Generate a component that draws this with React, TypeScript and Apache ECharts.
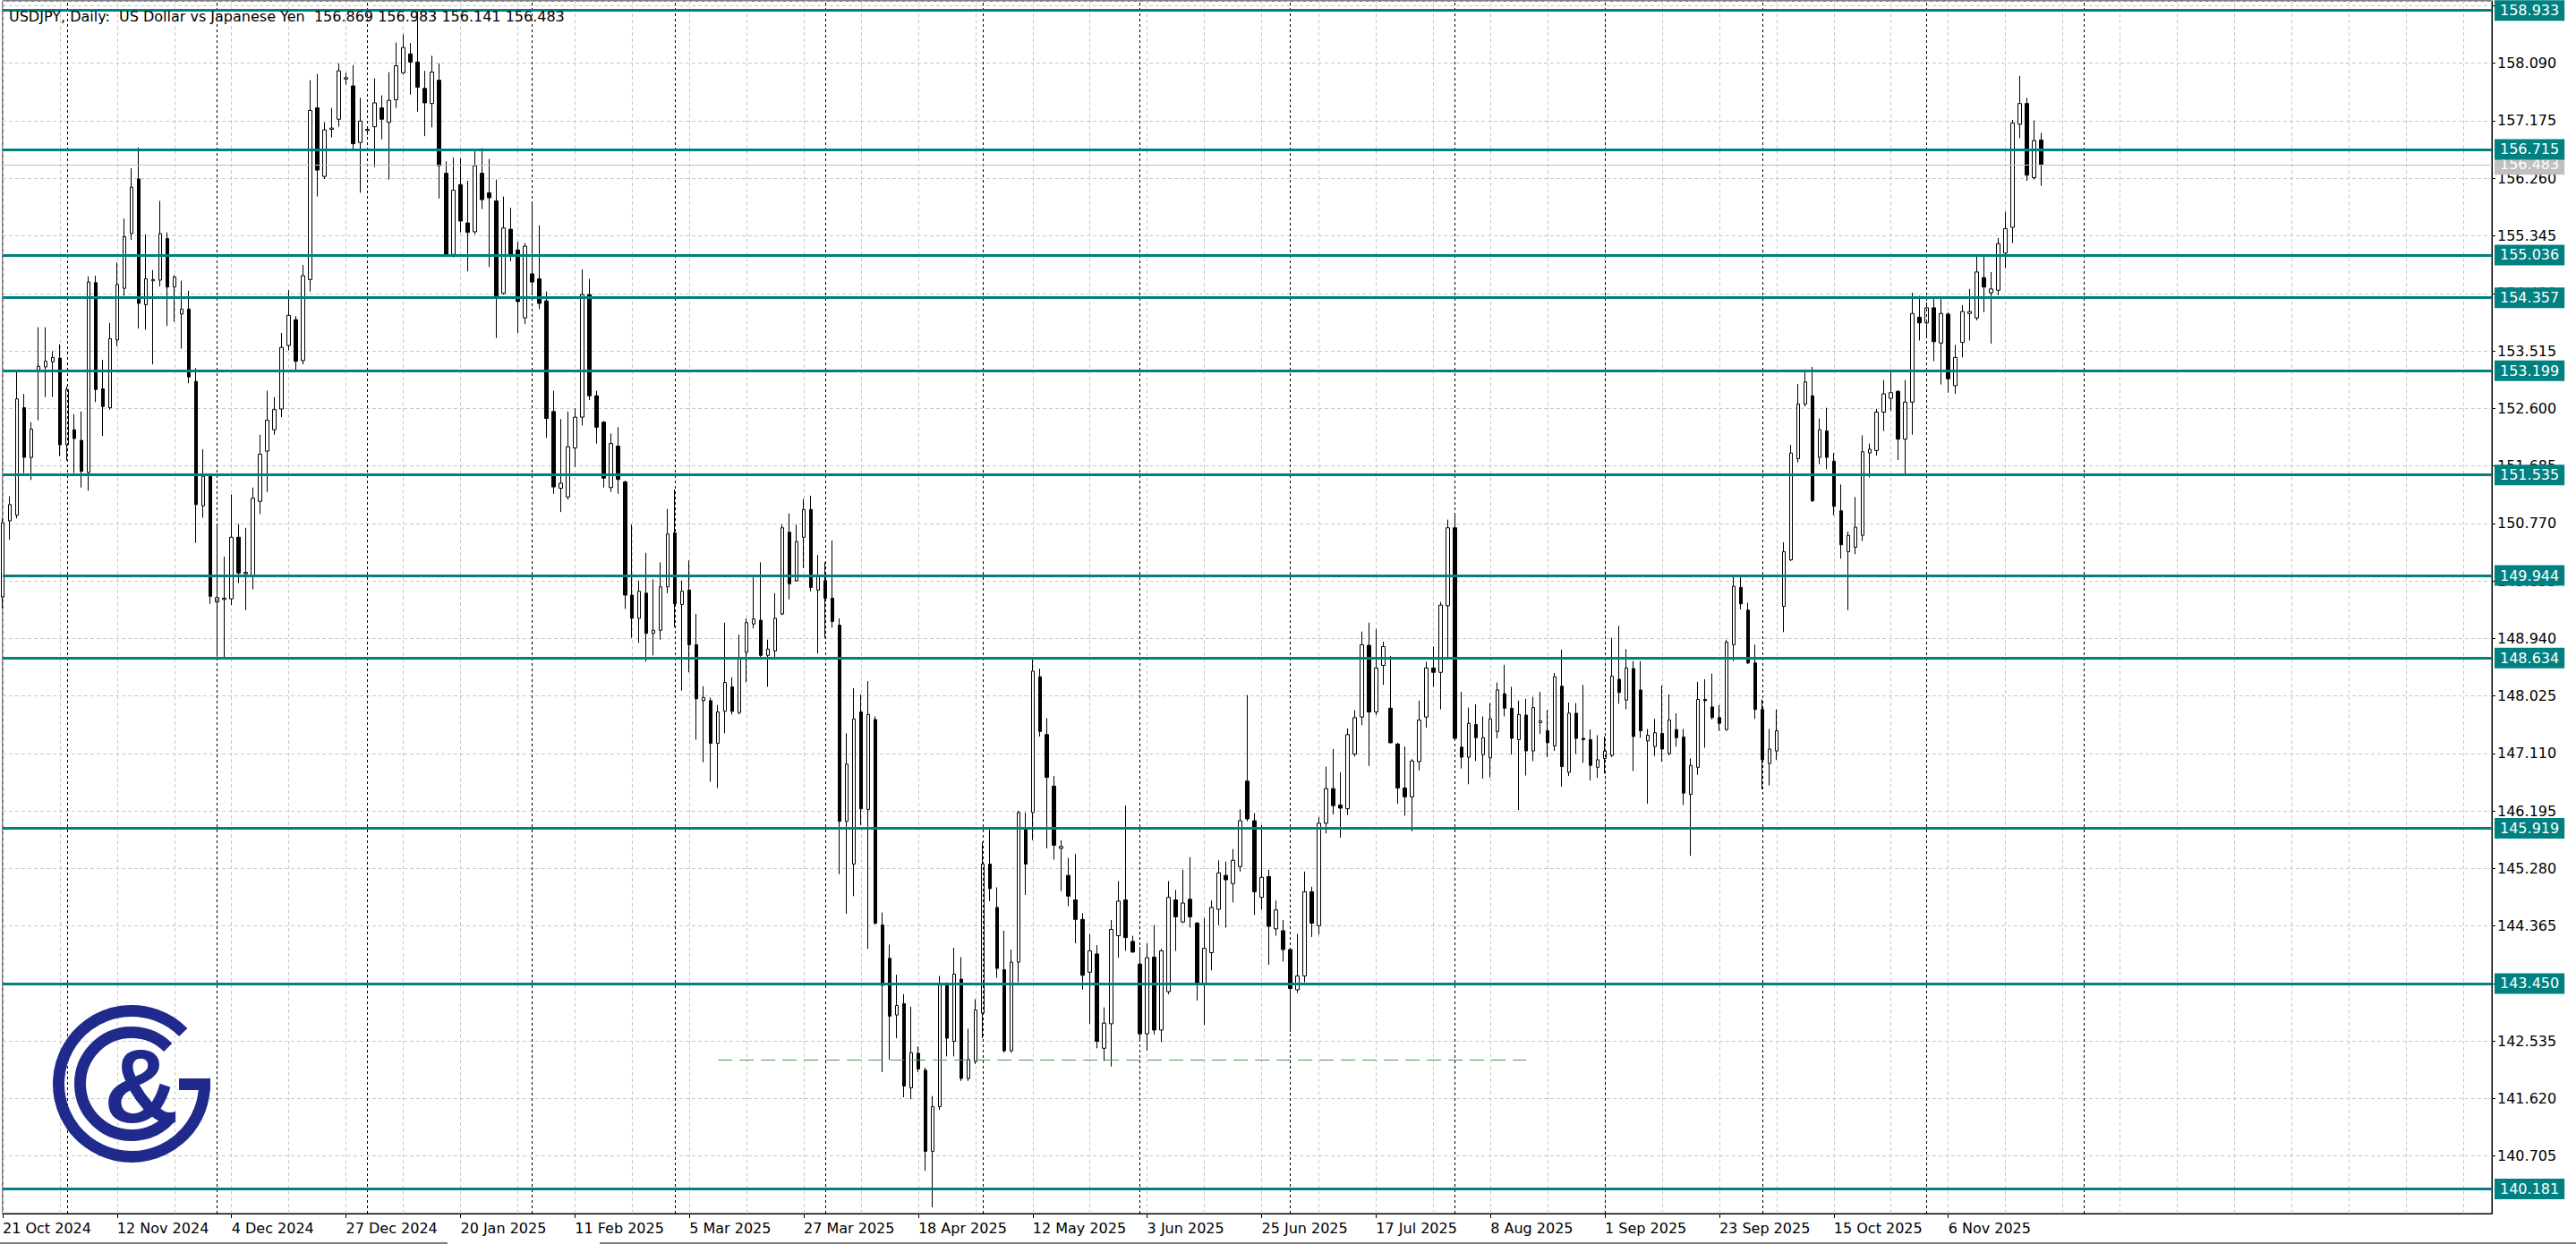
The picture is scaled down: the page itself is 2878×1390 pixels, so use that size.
import React, { useEffect, useRef } from 'react';
import * as echarts from 'echarts';

// ---------- axis / layout constants ----------
const BASE = 139.79; // bottom of price axis (first tick below 140.705)
const Y_MAX = 159.0825;
const TICK_STEP = 0.915;
const startDate = '2024-10-21';
const skippedDates = ['2024-12-25'];
const categoryCount = 349;
const labelEvery = 16;
const gridEvery = 8;

// ---------- OHLC values (USDJPY daily) ----------
const opens = [
  149.60, 150.81, 150.90, 152.61, 151.82, 153.18, 153.26, 153.34, 153.40, 152.02,
  152.26, 152.09, 151.58, 154.60, 152.91, 152.61, 153.69, 154.51, 155.38, 156.25,
  154.25, 154.63, 154.64, 155.30, 154.53, 154.10, 154.18, 153.03, 151.05, 151.52,
  149.52, 149.56, 149.57, 150.55, 149.97, 149.92, 151.12, 151.92, 152.26, 152.59,
  153.60, 154.01, 153.36, 154.65, 157.38, 156.29, 157.04, 157.20, 157.84, 157.73,
  156.83, 157.02, 157.08, 157.38, 157.15, 157.51, 157.94, 158.24, 158.11, 157.69,
  157.45, 157.82, 156.34, 155.05, 156.16, 155.55, 155.41, 156.34, 156.03, 155.90,
  154.43, 155.45, 155.12, 154.04, 154.74, 154.66, 154.31, 152.55, 151.33, 151.19,
  151.97, 152.46, 154.41, 152.80, 152.38, 151.34, 152.00, 151.43, 149.63, 149.26,
  149.66, 149.02, 149.07, 149.76, 150.62, 149.48, 149.71, 148.84, 147.95, 147.95,
  147.27, 147.78, 148.17, 147.76, 148.72, 149.17, 149.23, 148.67, 148.74, 149.33,
  150.63, 149.86, 150.55, 150.99, 149.71, 149.86, 149.58, 149.15, 146.03, 145.35,
  147.77, 146.22, 147.65, 144.38, 143.85, 142.95, 143.13, 141.79, 142.34, 142.07,
  140.78, 141.49, 143.45, 142.53, 143.52, 141.94, 142.21, 142.98, 145.35, 144.66,
  143.67, 142.38, 143.79, 145.92, 146.17, 148.33, 147.41, 146.59, 145.60, 145.17,
  144.78, 144.47, 143.63, 143.92, 142.42, 142.81, 144.21, 144.78, 144.12, 143.76,
  142.65, 143.87, 142.71, 143.32, 144.78, 144.43, 144.79, 144.41, 143.44, 143.94,
  144.63, 145.17, 145.04, 145.31, 146.67, 146.04, 144.82, 145.15, 144.32, 144.29,
  143.99, 143.35, 143.57, 144.91, 144.37, 146.00, 146.55, 146.29, 146.23, 147.10,
  147.69, 148.83, 147.77, 148.51, 147.83, 147.26, 146.56, 146.42, 146.98, 147.69,
  148.47, 148.40, 149.46, 150.70, 147.21, 147.05, 147.57, 147.09, 147.04, 147.46,
  148.06, 147.83, 147.33, 147.72, 147.15, 147.60, 147.47, 147.23, 148.18, 146.81,
  147.75, 147.35, 147.33, 146.89, 147.03, 147.08, 148.29, 147.96, 148.46, 148.12,
  147.31, 147.22, 147.43, 147.11, 147.49, 147.37, 146.46, 146.89, 147.97, 147.85,
  147.68, 147.49, 148.84, 149.75, 149.39, 148.55, 147.81, 146.95, 147.15, 149.45,
  150.19, 151.80, 152.67, 152.80, 151.82, 152.24, 151.76, 150.97, 150.32, 150.39,
  150.58, 151.89, 151.93, 152.54, 152.76, 152.87, 152.11, 152.70, 154.05, 153.96,
  154.20, 153.64, 154.10, 152.96, 153.65, 154.11, 154.04, 154.68, 154.44, 154.48,
  155.07, 155.48, 157.12, 157.45, 156.27, 156.869,
];
const highs = [
  150.85, 151.20, 153.18, 152.83, 152.38, 153.89, 153.89, 153.51, 153.62, 152.95,
  152.51, 152.55, 154.70, 154.71, 153.37, 153.96, 154.92, 155.62, 156.42, 156.75,
  155.37, 154.80, 155.90, 155.40, 154.72, 154.63, 154.47, 153.24, 151.95, 151.55,
  150.75, 150.24, 151.23, 150.76, 150.70, 151.34, 152.18, 152.88, 152.78, 153.80,
  154.48, 154.07, 154.88, 157.82, 157.92, 157.15, 157.38, 158.09, 157.94, 158.06,
  157.54, 157.08, 157.85, 157.58, 157.95, 158.42, 158.55, 158.41, 158.91, 157.97,
  158.21, 158.09, 156.53, 156.59, 156.58, 156.22, 156.69, 156.74, 156.57, 156.24,
  155.97, 155.79, 155.25, 155.23, 155.88, 155.51, 154.46, 152.88, 152.43, 152.55,
  152.60, 154.81, 154.66, 152.88, 152.40, 152.20, 152.30, 151.45, 150.75, 149.86,
  150.30, 149.88, 150.15, 151.00, 151.31, 149.86, 150.18, 149.33, 148.18, 148.00,
  147.88, 149.19, 148.32, 149.00, 149.26, 149.91, 150.15, 148.92, 149.66, 150.75,
  150.93, 150.75, 151.16, 151.21, 150.27, 150.15, 150.50, 149.26, 147.43, 148.15,
  148.05, 148.26, 147.70, 144.58, 144.07, 143.59, 143.28, 143.08, 142.45, 142.11,
  141.66, 143.57, 143.47, 144.02, 143.87, 142.73, 143.20, 145.70, 145.90, 144.98,
  144.29, 143.99, 146.20, 146.17, 148.60, 148.46, 147.67, 146.75, 145.73, 145.45,
  145.51, 144.57, 144.24, 144.06, 143.07, 144.46, 145.08, 146.28, 144.21, 144.03,
  144.09, 144.38, 144.00, 145.08, 144.94, 145.26, 145.46, 144.43, 144.49, 144.77,
  145.41, 145.39, 145.59, 146.22, 148.04, 146.16, 145.97, 145.26, 144.77, 144.46,
  144.00, 144.24, 145.23, 144.99, 146.10, 146.90, 147.18, 146.81, 147.51, 147.80,
  149.05, 149.19, 149.09, 148.89, 148.66, 147.28, 147.22, 147.02, 147.95, 148.57,
  148.81, 149.52, 150.83, 150.93, 148.09, 147.84, 147.89, 147.70, 147.91, 148.24,
  148.52, 148.17, 147.95, 147.98, 148.01, 148.09, 147.80, 148.39, 148.76, 147.92,
  147.91, 148.20, 147.49, 147.40, 147.38, 148.95, 149.14, 148.77, 148.58, 148.58,
  147.50, 147.66, 148.19, 148.05, 147.75, 147.50, 147.03, 148.25, 148.29, 148.38,
  147.88, 148.92, 149.93, 149.93, 149.51, 148.84, 147.97, 147.50, 147.81, 150.47,
  152.02, 152.99, 153.22, 153.26, 152.44, 152.61, 151.89, 151.39, 150.64, 151.19,
  152.17, 152.04, 152.59, 153.05, 153.22, 152.89, 153.05, 154.44, 154.39, 154.29,
  154.36, 154.36, 154.13, 153.61, 154.24, 154.50, 155.03, 155.03, 154.77, 155.31,
  155.73, 157.19, 157.89, 157.54, 157.18, 156.983,
];
const lows = [
  149.42, 150.51, 150.85, 151.57, 151.46, 152.41, 152.78, 152.78, 151.84, 151.77,
  151.57, 151.34, 151.29, 152.70, 152.16, 152.58, 153.59, 154.39, 155.28, 153.87,
  153.85, 153.30, 154.54, 153.91, 153.98, 153.55, 153.00, 150.46, 150.86, 149.49,
  148.65, 148.61, 149.47, 149.82, 149.39, 149.72, 150.92, 151.27, 152.18, 152.46,
  153.52, 153.18, 153.30, 154.46, 155.97, 156.25, 156.91, 157.08, 157.75, 156.71,
  156.03, 156.95, 156.44, 156.88, 156.24, 157.38, 157.91, 157.59, 157.32, 156.93,
  157.07, 155.94, 155.03, 155.00, 155.40, 154.78, 155.37, 155.77, 154.85, 153.72,
  154.41, 154.94, 153.80, 153.94, 154.41, 154.18, 152.13, 151.24, 150.95, 151.15,
  151.67, 152.33, 152.73, 152.04, 151.34, 151.27, 151.24, 149.41, 148.95, 148.87,
  148.57, 148.67, 148.92, 149.66, 149.12, 148.11, 148.40, 147.33, 146.97, 146.66,
  146.56, 147.43, 147.73, 147.73, 148.24, 149.10, 148.64, 148.17, 148.60, 149.31,
  149.56, 149.84, 150.06, 149.69, 148.70, 148.95, 149.11, 145.19, 144.56, 144.84,
  145.97, 144.00, 144.39, 142.04, 142.24, 142.58, 141.64, 141.61, 142.04, 140.47,
  139.89, 141.44, 142.29, 142.29, 141.90, 141.90, 142.17, 142.58, 144.76, 143.54,
  142.35, 142.35, 143.47, 144.86, 145.73, 147.38, 145.60, 145.42, 144.92, 144.68,
  144.09, 143.35, 142.81, 142.42, 142.22, 142.13, 143.86, 143.97, 143.94, 142.55,
  142.38, 142.64, 142.52, 143.28, 143.97, 144.41, 144.34, 143.18, 142.79, 143.66,
  144.38, 144.34, 144.74, 145.23, 146.03, 144.54, 144.63, 143.75, 144.21, 143.80,
  142.68, 143.30, 143.47, 144.19, 144.23, 145.84, 146.14, 145.77, 146.13, 147.06,
  147.56, 146.91, 147.72, 148.20, 147.27, 146.31, 146.12, 145.87, 146.84, 147.52,
  148.17, 147.81, 148.60, 147.33, 146.87, 146.62, 146.99, 146.71, 146.73, 147.35,
  147.70, 147.09, 146.21, 146.76, 146.99, 147.42, 147.05, 147.15, 146.58, 146.75,
  147.10, 146.96, 146.68, 146.72, 146.79, 147.05, 147.90, 147.81, 146.83, 147.36,
  146.31, 147.07, 146.98, 147.08, 147.22, 146.29, 145.48, 146.77, 147.20, 147.65,
  147.47, 147.47, 148.58, 149.40, 148.53, 147.66, 146.54, 146.60, 147.01, 149.04,
  150.17, 151.74, 152.63, 151.11, 151.71, 151.63, 150.90, 150.21, 149.39, 150.28,
  150.49, 151.50, 151.85, 152.24, 152.56, 151.78, 151.54, 152.18, 153.68, 153.75,
  153.35, 152.98, 152.85, 152.83, 153.41, 153.68, 154.00, 154.13, 153.63, 154.40,
  154.83, 155.23, 156.90, 156.22, 156.24, 156.141,
];
const closes = [
  150.78, 151.07, 152.75, 151.82, 152.27, 153.27, 153.35, 153.41, 152.02, 152.90,
  152.12, 151.60, 154.61, 152.90, 152.63, 153.71, 154.57, 155.33, 156.12, 154.27,
  154.66, 154.65, 155.38, 154.53, 154.69, 154.18, 153.10, 151.07, 151.52, 149.61,
  149.59, 149.58, 150.55, 149.98, 149.99, 151.17, 151.87, 152.41, 152.58, 153.57,
  154.08, 153.35, 154.71, 157.34, 156.39, 157.03, 157.06, 157.97, 157.86, 156.81,
  157.17, 157.04, 157.46, 157.20, 157.50, 158.05, 158.34, 158.11, 157.71, 157.46,
  157.95, 156.46, 155.05, 156.07, 155.58, 155.40, 156.46, 155.92, 155.95, 154.39,
  155.47, 155.05, 154.30, 155.18, 154.61, 154.27, 152.44, 151.35, 151.41, 151.99,
  152.46, 154.41, 152.80, 152.30, 151.49, 152.04, 151.47, 149.63, 149.26, 149.69,
  149.02, 149.07, 149.76, 150.60, 149.49, 149.69, 148.84, 147.98, 148.00, 147.27,
  147.77, 148.24, 147.78, 148.62, 149.19, 149.25, 148.67, 148.77, 149.26, 150.70,
  149.81, 150.48, 150.99, 149.75, 149.93, 149.58, 149.21, 146.03, 146.94, 147.66,
  146.23, 147.73, 144.41, 143.42, 142.93, 143.10, 141.82, 142.35, 142.09, 140.78,
  141.49, 143.45, 142.58, 143.60, 141.94, 142.24, 143.03, 145.35, 144.96, 143.69,
  142.38, 143.79, 146.17, 145.35, 148.42, 147.46, 146.73, 145.65, 145.63, 144.84,
  144.47, 143.58, 143.97, 142.53, 142.82, 144.31, 144.76, 144.18, 143.95, 142.65,
  143.86, 142.71, 143.97, 144.82, 144.51, 144.73, 144.51, 143.45, 144.01, 144.66,
  145.21, 145.10, 145.41, 146.04, 146.07, 144.91, 145.14, 144.36, 144.62, 143.99,
  143.37, 143.57, 144.91, 144.41, 146.00, 146.55, 146.28, 146.24, 147.41, 147.68,
  148.84, 147.77, 148.47, 148.81, 147.28, 146.56, 146.42, 146.99, 147.64, 148.47,
  148.40, 149.47, 150.70, 147.35, 147.05, 147.59, 147.36, 147.36, 147.66, 148.12,
  147.83, 147.35, 147.73, 147.15, 147.84, 147.63, 147.28, 148.33, 146.90, 147.75,
  147.35, 147.33, 146.92, 147.01, 147.15, 148.34, 148.08, 148.47, 147.38, 147.47,
  147.40, 147.44, 147.18, 147.64, 147.36, 146.48, 146.92, 147.97, 147.95, 147.68,
  147.59, 148.88, 149.77, 149.49, 148.55, 147.81, 147.01, 147.18, 147.47, 150.32,
  151.89, 152.67, 153.02, 151.13, 152.26, 151.82, 151.04, 150.43, 150.58, 150.71,
  151.91, 151.95, 152.54, 152.83, 152.85, 152.11, 152.70, 154.11, 153.96, 154.20,
  153.66, 154.11, 153.07, 153.41, 154.14, 154.14, 154.77, 154.53, 154.50, 155.22,
  155.46, 157.14, 157.45, 156.31, 156.86, 156.483,
];

// ---------- horizontal levels & annotations ----------
const levels = [158.933, 156.715, 155.036, 154.357, 153.199, 151.535, 149.944, 148.634, 145.919, 143.45, 140.181];
const lastClose = 156.483;
const dashedLevel = 142.23;
const dashedFrom = 100;
const dashedTo = 213;
const monthStarts = [9, 30, 51, 74, 94, 115, 137, 159, 180, 203, 224, 246, 269, 291];
const titleText = 'USDJPY, Daily:  US Dollar vs Japanese Yen  156.869 156.983 156.141 156.483';

const MONTHS = ['Jan', 'Feb', 'Mar', 'Apr', 'May', 'Jun', 'Jul', 'Aug', 'Sep', 'Oct', 'Nov', 'Dec'];
const TEAL = '#008080';
const NAVY = '#1f2a8c';
const GRID_GRAY = '#c8c8c8';
const FONT = '"DejaVu Sans", Verdana, sans-serif';

function buildDates(n: number): string[] {
  const out: string[] = [];
  const [y, m, d] = startDate.split('-').map((s) => parseInt(s, 10));
  const cur = new Date(Date.UTC(y, m - 1, d));
  while (out.length < n) {
    const wd = cur.getUTCDay();
    const iso = cur.toISOString().slice(0, 10);
    if (wd !== 0 && wd !== 6 && !skippedDates.includes(iso)) out.push(iso);
    cur.setUTCDate(cur.getUTCDate() + 1);
  }
  return out;
}

function fmtDate(s: string): string {
  const [y, m, d] = s.split('-');
  return `${parseInt(d, 10)} ${MONTHS[parseInt(m, 10) - 1]} ${y}`;
}

function buildOption() {
  const dates = buildDates(categoryCount);
  const candleData = opens.map((o, i) => [o, closes[i], lows[i], highs[i]]);
  const labelInterval = (i: number) => i % labelEvery === 0 && i < opens.length;

  const boxLabel = {
    show: true,
    position: 'end',
    distance: 3,
    color: '#ffffff',
    fontSize: 16,
    fontFamily: FONT,
    padding: [2, 6, 2, 6],
    lineHeight: 19,
  };

  const markData: any[] = [];
  monthStarts.forEach((i) => {
    markData.push({
      xAxis: dates[i],
      lineStyle: { color: '#000000', width: 1, type: [3, 3] },
      label: { show: false },
    });
  });
  markData.push([
    {
      coord: [dates[dashedFrom], dashedLevel - BASE],
      lineStyle: { color: '#4f9a4f', width: 1.2, type: [16, 8] },
      label: { show: false },
    },
    { coord: [dates[dashedTo], dashedLevel - BASE] },
  ]);
  markData.push({
    yAxis: lastClose - BASE,
    lineStyle: { color: '#c0c0c0', width: 1, type: 'solid' },
    label: { ...boxLabel, backgroundColor: '#c0c0c0', formatter: lastClose.toFixed(3) },
  });
  levels.forEach((v) => {
    markData.push({
      yAxis: v - BASE,
      lineStyle: { color: TEAL, width: 3, type: 'solid' },
      label: { ...boxLabel, backgroundColor: TEAL, formatter: v.toFixed(3) },
    });
  });

  return {
    animation: false,
    backgroundColor: '#ffffff',
    grid: {
      left: 3,
      right: 94,
      top: 1,
      bottom: 34,
      show: true,
      borderColor: '#000000',
      borderWidth: 1,
      backgroundColor: '#ffffff',
    },
    xAxis: {
      type: 'category',
      data: dates,
      boundaryGap: false,
      axisLine: { show: true, lineStyle: { color: '#000000', width: 1 } },
      axisTick: { show: true, interval: labelInterval, length: 5, lineStyle: { color: '#000000' } },
      axisLabel: {
        show: true,
        interval: labelInterval,
        formatter: (v: string) => fmtDate(v),
        align: 'left',
        margin: 8,
        fontSize: 16,
        fontFamily: FONT,
        color: '#000000',
      },
      splitLine: {
        show: true,
        interval: (i: number) => i % gridEvery === 0,
        lineStyle: { color: GRID_GRAY, width: 1, type: [4, 3] },
      },
    },
    yAxis: {
      type: 'value',
      position: 'right',
      min: 0,
      max: Y_MAX - BASE,
      interval: TICK_STEP,
      axisLine: { show: true, lineStyle: { color: '#000000', width: 1 } },
      axisTick: { show: true, length: 4, lineStyle: { color: '#000000' } },
      axisLabel: {
        show: true,
        margin: 6,
        fontSize: 16,
        fontFamily: FONT,
        color: '#000000',
        showMinLabel: false,
        showMaxLabel: false,
        formatter: (v: number) => {
          const p = v + BASE;
          if (p > 158.95) return '';
          return p.toFixed(3);
        },
      },
      splitLine: { show: true, lineStyle: { color: GRID_GRAY, width: 1, type: [4, 3] } },
    },
    series: [
      {
        type: 'candlestick',
        data: candleData.map((c) => [c[0] - BASE, c[1] - BASE, c[2] - BASE, c[3] - BASE]),
        barWidth: 4,
        itemStyle: {
          color: '#ffffff',
          color0: '#000000',
          borderColor: '#000000',
          borderColor0: '#000000',
          borderWidth: 1,
        },
        markLine: {
          silent: true,
          animation: false,
          symbol: ['none', 'none'],
          label: boxLabel,
          data: markData,
        },
      },
    ],
    graphic: [
      {
        type: 'text',
        x: 10,
        y: 18,
        z: 10,
        style: { text: titleText, fontSize: 16, fontFamily: FONT, fill: '#000000', align: 'left', verticalAlign: 'middle' },
      },
      {
        type: 'arc',
        z: 10,
        shape: { cx: 147, cy: 1211, r: 81.5, startAngle: -0.07, endAngle: 5.5, clockwise: true },
        style: { stroke: NAVY, lineWidth: 13, fill: 'none' },
      },
      {
        type: 'rect',
        z: 10,
        shape: { x: 200, y: 1205, width: 35, height: 13 },
        style: { fill: NAVY },
      },
      {
        type: 'arc',
        z: 10,
        shape: { cx: 147, cy: 1211, r: 57.5, startAngle: 0.72, endAngle: 5.5, clockwise: true },
        style: { stroke: NAVY, lineWidth: 13, fill: 'none' },
      },
      {
        type: 'text',
        z: 10,
        x: 158,
        y: 1214,
        style: {
          text: '&',
          fontSize: 116,
          fontWeight: 'bold',
          fontFamily: '"Liberation Sans", Arial, sans-serif',
          fill: NAVY,
          align: 'center',
          verticalAlign: 'middle',
        },
      },
      {
        type: 'line',
        shape: { x1: 0, y1: 1389, x2: 500, y2: 1389 },
        style: { stroke: '#000000', lineWidth: 1 },
      },
      {
        type: 'line',
        shape: { x1: 670, y1: 1389, x2: 2878, y2: 1389 },
        style: { stroke: '#000000', lineWidth: 1 },
      },
    ],
  };
}

export default function App() {
  const ref = useRef<HTMLDivElement>(null);
  useEffect(() => {
    if (!ref.current) return;
    const chart = echarts.init(ref.current, undefined, { renderer: 'svg' });
    chart.setOption(buildOption() as any);
    return () => {
      chart.dispose();
    };
  }, []);
  return (
    <div
      ref={ref}
      style={{ position: 'absolute', left: 0, top: 0, width: 2878, height: 1390, background: '#ffffff' }}
    />
  );
}
